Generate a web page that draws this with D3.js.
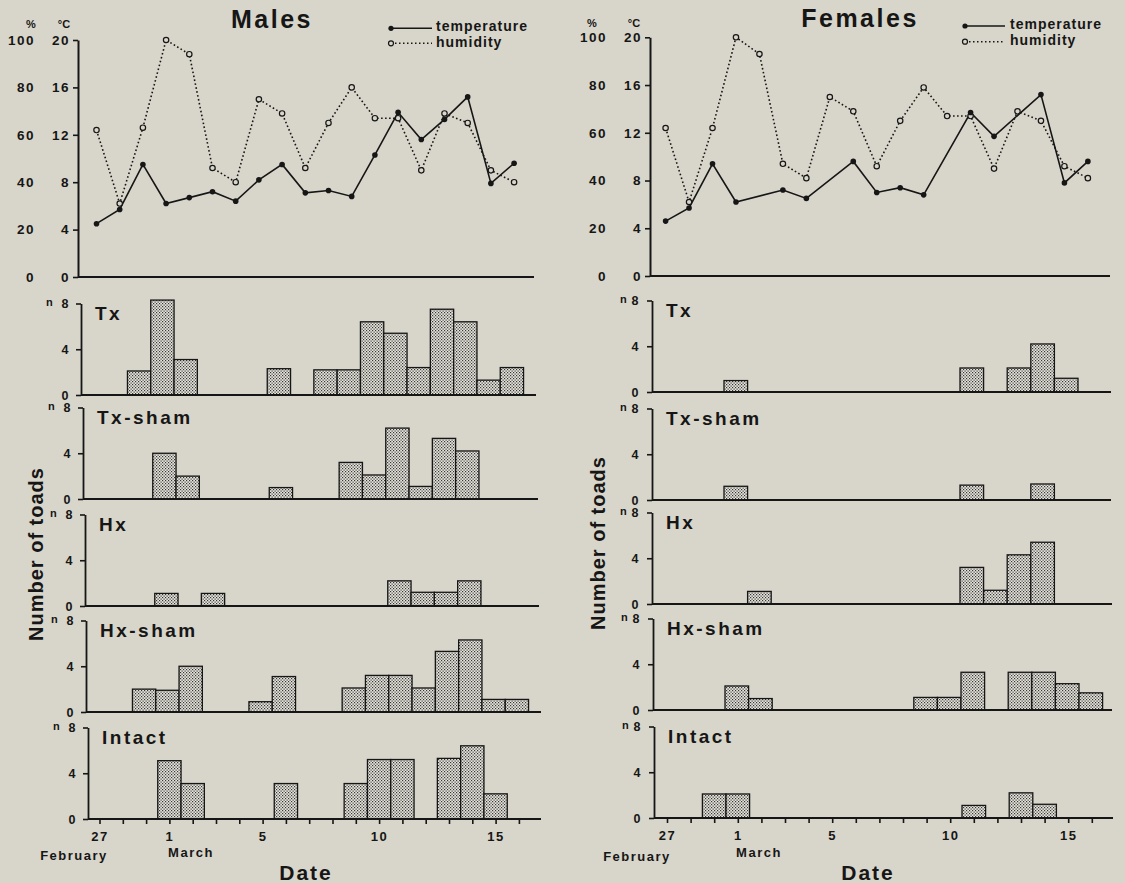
<!DOCTYPE html>
<html>
<head>
<meta charset="utf-8">
<script src="https://cdn.jsdelivr.net/npm/d3@7"></script>
<style>
  html, body { margin: 0; padding: 0; background: #d8d5ca; }
  svg { display: block; }
  text { font-family: "Liberation Sans", Arial, Helvetica, sans-serif; font-weight: bold; fill: #161616; }
</style>
</head>
<body>
<svg id="chart" width="1125" height="883"></svg>
<script>
// ---- Data ---------------------------------------------------------------
// Observation days, 27 February to 16 March (leap year: 29 Feb included)
const days = ["Feb 27", "Feb 28", "Feb 29", "Mar 1", "Mar 2", "Mar 3", "Mar 4", "Mar 5",
              "Mar 6", "Mar 7", "Mar 8", "Mar 9", "Mar 10", "Mar 11", "Mar 12", "Mar 13",
              "Mar 14", "Mar 15", "Mar 16"];
const dateTickDays = [0, 3, 7, 12, 17];
const dateTickLabels = ["27", "1", "5", "10", "15"];

const tempTicks = [0, 4, 8, 12, 16, 20];
const humidityTicks = [0, 20, 40, 60, 80, 100];
const countTicks = [0, 4, 8];

const groups = ["Tx", "Tx-sham", "Hx", "Hx-sham", "Intact"];

// Air temperature (°C) and relative humidity (%)
const maleTemperature   = [4.5, 5.7, 9.5, 6.2, 6.7, 7.2, 6.4, 8.2, 9.5, 7.1, 7.3, 6.8, 10.3, 13.9, 11.6, 13.3, 15.2, 7.9, 9.6];
const maleHumidity      = [62, 31, 63, 100, 94, 46, 40, 75, 69, 46, 65, 80, 67, 67, 45, 69, 65, 45, 40];
const femaleTemperature = [4.6, 5.7, 9.4, 6.2, null, 7.2, 6.5, null, 9.6, 7.0, 7.4, 6.8, null, 13.7, 11.7, null, 15.2, 7.8, 9.6];
const femaleHumidity    = [62, 31, 62, 100, 93, 47, 41, 75, 69, 46, 65, 79, 67, 67, 45, 69, 65, 46, 41];

// Number of toads per day, one array per treatment group
const maleTx      = [0, 0, 2.1, 8.3, 3.1, 0, 0, 0, 2.3, 0, 2.2, 2.2, 6.4, 5.4, 2.4, 7.5, 6.4, 1.3, 2.4];
const maleTxSham  = [0, 0, 0, 4.0, 2.0, 0, 0, 0, 1.0, 0, 0, 3.2, 2.1, 6.2, 1.1, 5.3, 4.2, 0, 0];
const maleHx      = [0, 0, 0, 1.1, 0, 1.1, 0, 0, 0, 0, 0, 0, 0, 2.2, 1.2, 1.2, 2.2, 0, 0];
const maleHxSham  = [0, 0, 2.0, 1.9, 4.0, 0, 0, 0.9, 3.1, 0, 0, 2.1, 3.2, 3.2, 2.1, 5.3, 6.3, 1.1, 1.1];
const maleIntact  = [0, 0, 0, 5.1, 3.1, 0, 0, 0, 3.1, 0, 0, 3.1, 5.2, 5.2, 0, 5.3, 6.4, 2.2, 0];

const femaleTx     = [0, 0, 0, 1.0, 0, 0, 0, 0, 0, 0, 0, 0, 0, 2.1, 0, 2.1, 4.2, 1.2, 0];
const femaleTxSham = [0, 0, 0, 1.2, 0, 0, 0, 0, 0, 0, 0, 0, 0, 1.3, 0, 0, 1.4, 0, 0];
const femaleHx     = [0, 0, 0, 0, 1.1, 0, 0, 0, 0, 0, 0, 0, 0, 3.2, 1.2, 4.3, 5.4, 0, 0];
const femaleHxSham = [0, 0, 0, 2.1, 1.0, 0, 0, 0, 0, 0, 0, 1.1, 1.1, 3.3, 0, 3.3, 3.3, 2.3, 1.5];
const femaleIntact = [0, 0, 2.1, 2.1, 0, 0, 0, 0, 0, 0, 0, 0, 0, 1.1, 0, 2.2, 1.2, 0, 0];

// ---- Layout ---------------------------------------------------------------
const ink = "#161616";
const paper = "#d8d5ca";

const columns = [
  {
    title: "Males", titleX: 272, titleY: 28,
    temperature: maleTemperature, humidity: maleHumidity,
    counts: [maleTx, maleTxSham, maleHx, maleHxSham, maleIntact],
    top: { axis: 78, y0: 277, y20: 40, x0: 96.5, step: 23.2, xEnd: 534, pctRight: 35, unitY: 28, pctX: 31, degX: 64 },
    legend: { dotX: 391, lineEnd: 432, textX: 436, y1: 28.3, t1: 31, y2: 43.3, t2: 46.5 },
    hist: { axes: [81, 83, 85, 86, 88], bases: [395, 499, 606, 712, 819], xOff: 11.5, step: 23.3,
            ends: [536, 538, 539, 541, 541], labelGap: 12, nGap: 35 },
    yLabel: { x: 36, y: 554 },
    feb: { x: 74, y: 860 }, mar: { x: 191, y: 857 }, date: { x: 306, y: 880 }
  },
  {
    title: "Females", titleX: 860, titleY: 27,
    temperature: femaleTemperature, humidity: femaleHumidity,
    counts: [femaleTx, femaleTxSham, femaleHx, femaleHxSham, femaleIntact],
    top: { axis: 650, y0: 276, y20: 37.3, x0: 665.6, step: 23.46, xEnd: 1110, pctRight: 607, unitY: 27, pctX: 592, degX: 634 },
    legend: { dotX: 965, lineEnd: 1005, textX: 1010, y1: 26, t1: 29, y2: 41.7, t2: 44.5 },
    hist: { axes: [652, 652, 652, 653, 654], bases: [392, 500, 604, 710, 818], xOff: 13, step: 23.6,
            ends: [1111, 1111, 1112, 1112, 1113], labelGap: 13, nGap: 32 },
    yLabel: { x: 598, y: 543 },
    feb: { x: 637, y: 861 }, mar: { x: 759, y: 857 }, date: { x: 868, y: 880 }
  }
];

const svg = d3.select("#chart");
svg.append("rect").attr("width", 1125).attr("height", 883).attr("fill", paper);

// Stippled fill for the histogram bars
const pat = svg.append("defs").append("pattern")
  .attr("id", "stipple").attr("patternUnits", "userSpaceOnUse")
  .attr("width", 3).attr("height", 3);
pat.append("rect").attr("width", 3).attr("height", 3).attr("fill", "#e6e4dc");
pat.append("rect").attr("x", 0).attr("y", 0).attr("width", 1.2).attr("height", 1.2).attr("fill", "#363634");
pat.append("rect").attr("x", 1.5).attr("y", 1.5).attr("width", 1.2).attr("height", 1.2).attr("fill", "#363634");

function styleAxis(g, fontSize, spacing, width) {
  g.select(".domain").attr("stroke", ink).attr("stroke-width", width);
  g.selectAll(".tick line").attr("stroke", ink).attr("stroke-width", 1.6);
  g.selectAll(".tick text")
    .attr("fill", ink)
    .style("font-family", "'Liberation Sans', Arial, sans-serif")
    .style("font-weight", "bold")
    .style("font-size", fontSize + "px")
    .style("letter-spacing", spacing + "px");
}

columns.forEach(col => {
  const t = col.top;

  // Title
  svg.append("text").attr("x", col.titleX).attr("y", col.titleY)
    .attr("text-anchor", "middle")
    .style("font-size", "25px").style("letter-spacing", "2.5px")
    .text(col.title);

  // ---- Weather panel ----
  const xTop = d3.scaleLinear().domain([0, days.length - 1])
    .range([t.x0, t.x0 + (days.length - 1) * t.step]);
  const yTemp = d3.scaleLinear().domain([0, 20]).range([t.y0, t.y20]);
  const yHum = d3.scaleLinear().domain([0, 100]).range([t.y0, t.y20]);

  const gTop = svg.append("g");

  gTop.append("line").attr("x1", t.axis).attr("x2", t.xEnd)
    .attr("y1", t.y0).attr("y2", t.y0)
    .attr("stroke", ink).attr("stroke-width", 2.2);

  const tempAxis = gTop.append("g").attr("transform", `translate(${t.axis},0)`)
    .call(d3.axisLeft(yTemp).tickValues(tempTicks).tickSize(5).tickSizeOuter(0).tickPadding(3));
  styleAxis(tempAxis, 13.5, 1.5, 2);

  const humAxis = gTop.append("g").attr("transform", `translate(${t.pctRight},0)`)
    .call(d3.axisLeft(yHum).tickValues(humidityTicks).tickSize(0).tickPadding(0));
  humAxis.select(".domain").remove();
  styleAxis(humAxis, 13.5, 1.5, 0);

  gTop.append("text").attr("x", t.pctX).attr("y", t.unitY).attr("text-anchor", "middle")
    .style("font-size", "11px").text("%");
  gTop.append("text").attr("x", t.degX).attr("y", t.unitY).attr("text-anchor", "middle")
    .style("font-size", "11px").text("°C");

  const humData = col.humidity.map((v, i) => ({ i, v })).filter(d => d.v != null);
  const tempData = col.temperature.map((v, i) => ({ i, v })).filter(d => d.v != null);

  gTop.append("path").datum(humData)
    .attr("d", d3.line().x(d => xTop(d.i)).y(d => yHum(d.v)))
    .attr("fill", "none").attr("stroke", ink).attr("stroke-width", 1.6)
    .attr("stroke-dasharray", "1.6 2.4");

  gTop.append("path").datum(tempData)
    .attr("d", d3.line().x(d => xTop(d.i)).y(d => yTemp(d.v)))
    .attr("fill", "none").attr("stroke", ink).attr("stroke-width", 1.6);

  gTop.selectAll("circle.hum").data(humData).join("circle")
    .attr("class", "hum")
    .attr("cx", d => xTop(d.i)).attr("cy", d => yHum(d.v)).attr("r", 2.7)
    .attr("fill", paper).attr("stroke", ink).attr("stroke-width", 1.2);

  gTop.selectAll("circle.temp").data(tempData).join("circle")
    .attr("class", "temp")
    .attr("cx", d => xTop(d.i)).attr("cy", d => yTemp(d.v)).attr("r", 2.8)
    .attr("fill", ink);

  // Legend
  const lg = col.legend;
  gTop.append("circle").attr("cx", lg.dotX).attr("cy", lg.y1).attr("r", 2.6).attr("fill", ink);
  gTop.append("line").attr("x1", lg.dotX).attr("x2", lg.lineEnd).attr("y1", lg.y1).attr("y2", lg.y1)
    .attr("stroke", ink).attr("stroke-width", 1.6);
  gTop.append("text").attr("x", lg.textX).attr("y", lg.t1)
    .style("font-size", "14px").style("letter-spacing", "1px").text("temperature");
  gTop.append("line").attr("x1", lg.dotX + 4).attr("x2", lg.lineEnd).attr("y1", lg.y2).attr("y2", lg.y2)
    .attr("stroke", ink).attr("stroke-width", 1.6).attr("stroke-dasharray", "1.5 2.5");
  gTop.append("circle").attr("cx", lg.dotX).attr("cy", lg.y2).attr("r", 2.5)
    .attr("fill", paper).attr("stroke", ink).attr("stroke-width", 1.2);
  gTop.append("text").attr("x", lg.textX).attr("y", lg.t2)
    .style("font-size", "14px").style("letter-spacing", "1px").text("humidity");

  // ---- Count panels ----
  const h = col.hist;
  groups.forEach((name, k) => {
    const ax = h.axes[k], base = h.bases[k];
    const x = d3.scaleLinear().domain([0, days.length - 1])
      .range([ax + h.xOff, ax + h.xOff + (days.length - 1) * h.step]);
    const y = d3.scaleLinear().domain([0, 8]).range([base, base - 91.5]);
    const g = svg.append("g");

    const bars = col.counts[k].map((v, i) => ({ i, v })).filter(d => d.v > 0);
    g.selectAll("rect.bar").data(bars).join("rect")
      .attr("class", "bar")
      .attr("x", d => x(d.i - 0.5))
      .attr("width", d => x(d.i + 0.5) - x(d.i - 0.5))
      .attr("y", d => y(d.v))
      .attr("height", d => y(0) - y(d.v))
      .attr("fill", "url(#stipple)")
      .attr("stroke", ink).attr("stroke-width", 1.3);

    g.append("line").attr("x1", ax).attr("x2", h.ends[k]).attr("y1", base).attr("y2", base)
      .attr("stroke", ink).attr("stroke-width", 2.2);

    const ya = g.append("g").attr("transform", `translate(${ax},0)`)
      .call(d3.axisLeft(y).tickValues(countTicks).tickSize(5).tickSizeOuter(0).tickPadding(h.labelGap - 5));
    styleAxis(ya, 12.5, 0.5, 1.8);

    g.append("text").attr("x", ax - h.nGap).attr("y", y(8) + 2)
      .style("font-size", "11px").text("n");

    g.append("text").attr("x", ax + 14).attr("y", y(8) + 16)
      .style("font-size", "19px").style("letter-spacing", "2.5px").text(name);

    if (k === groups.length - 1) {
      const xa = g.append("g").attr("transform", `translate(0,${base})`)
        .call(d3.axisBottom(x).tickValues(d3.range(days.length)).tickSize(5).tickPadding(8)
          .tickFormat(i => {
            const j = dateTickDays.indexOf(i);
            return j >= 0 ? dateTickLabels[j] : "";
          }));
      xa.select(".domain").remove();
      styleAxis(xa, 13, 1.5, 0);
    }
  });

  // Axis titles and month names
  svg.append("text")
    .attr("transform", `translate(${col.yLabel.x},${col.yLabel.y}) rotate(-90)`)
    .attr("text-anchor", "middle").attr("dy", "0.35em")
    .style("font-size", "20px").style("letter-spacing", "1px")
    .text("Number of toads");

  svg.append("text").attr("x", col.feb.x).attr("y", col.feb.y).attr("text-anchor", "middle")
    .style("font-size", "13px").style("letter-spacing", "1.5px").text("February");
  svg.append("text").attr("x", col.mar.x).attr("y", col.mar.y).attr("text-anchor", "middle")
    .style("font-size", "13px").style("letter-spacing", "1.5px").text("March");
  svg.append("text").attr("x", col.date.x).attr("y", col.date.y).attr("text-anchor", "middle")
    .style("font-size", "21px").style("letter-spacing", "2px").text("Date");
});
</script>
</body>
</html>
